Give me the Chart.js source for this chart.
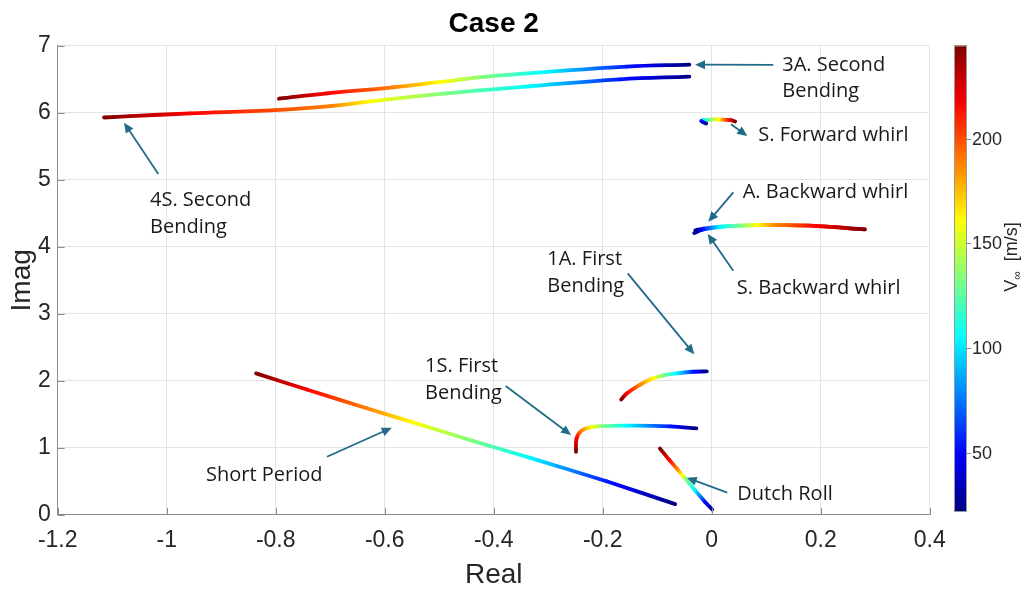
<!DOCTYPE html>
<html>
<head>
<meta charset="utf-8">
<script src="https://cdn.jsdelivr.net/npm/chart.js@4.4.1/dist/chart.umd.min.js"></script>
<style>
html,body{margin:0;padding:0;background:#fff;}
canvas{display:block;}
</style>
</head>
<body>
<canvas id="c" width="1028" height="589" style="width:1028px;height:589px"></canvas>
<script>
// ---------------- DATA ----------------
const X_TICKS = [-1.2, -1, -0.8, -0.6, -0.4, -0.2, 0, 0.2, 0.4];
const Y_TICKS = [0, 1, 2, 3, 4, 5, 6, 7];
const CB_TICKS = [50, 100, 150, 200];
const V_MIN = 21.7, V_MAX = 244.5;

// 4S. Second Bending
const V_4S  = [245, 235, 217, 200, 189, 161, 132, 104, 55, 22];
const RE_4S = [-1.115, -1.067, -0.957, -0.80, -0.70, -0.627, -0.486, -0.328, -0.168, -0.041];
const IM_4S = [5.93, 5.95, 5.99, 6.04, 6.10, 6.17, 6.29, 6.40, 6.50, 6.54];
// 3A. Second Bending
const V_3A  = [245, 217, 189, 161, 132, 104, 55, 22];
const RE_3A = [-0.794, -0.706, -0.585, -0.498, -0.413, -0.303, -0.156, -0.041];
const IM_3A = [6.21, 6.29, 6.38, 6.46, 6.54, 6.61, 6.69, 6.72];
// Short Period
const V_SP  = [245, 217, 189, 161, 132, 104, 55, 22];
const RE_SP = [-0.836, -0.743, -0.633, -0.548, -0.437, -0.333, -0.193, -0.067];
const IM_SP = [2.11, 1.87, 1.59, 1.38, 1.10, 0.85, 0.50, 0.16];
// 1S. First Bending
const V_1S  = [245, 217, 189, 161, 132, 104, 55, 22];
const RE_1S = [-0.249, -0.248, -0.239, -0.220, -0.199, -0.156, -0.076, -0.028];
const IM_1S = [0.94, 1.14, 1.255, 1.31, 1.325, 1.33, 1.32, 1.29];
// 1A. First Bending
const V_1A  = [245, 217, 189, 161, 132, 104, 55, 22];
const RE_1A = [-0.166, -0.156, -0.132, -0.107, -0.089, -0.064, -0.034, -0.009];
const IM_1A = [1.72, 1.81, 1.94, 2.04, 2.08, 2.11, 2.135, 2.14];
// Dutch Roll
const V_DR  = [245, 217, 189, 161, 132, 104, 55, 22];
const RE_DR = [-0.095, -0.078, -0.064, -0.054, -0.046, -0.031, -0.013, 0.001];
const IM_DR = [0.99, 0.82, 0.69, 0.59, 0.52, 0.37, 0.20, 0.08];
// S. Forward whirl
const V_SFW  = [245, 225, 200, 161, 140, 104, 55, 22];
const RE_SFW = [0.043, 0.035, 0.025, 0.012, 0.000, -0.015, -0.019, -0.010];
const IM_SFW = [5.87, 5.89, 5.895, 5.90, 5.90, 5.89, 5.875, 5.84];
// A. Backward whirl
const V_ABW  = [245, 217, 189, 161, 132, 104, 55, 22];
const RE_ABW = [0.281, 0.193, 0.119, 0.083, 0.052, 0.015, -0.015, -0.030];
const IM_ABW = [4.26, 4.31, 4.325, 4.325, 4.315, 4.30, 4.27, 4.245];
// S. Backward whirl
const V_SBW  = [245, 217, 189, 161, 132, 104, 55, 22];
const RE_SBW = [0.281, 0.193, 0.119, 0.083, 0.052, 0.015, -0.017, -0.032];
const IM_SBW = [4.26, 4.31, 4.325, 4.325, 4.315, 4.295, 4.255, 4.205];

const MODES = [
  [RE_4S, IM_4S, V_4S, 0.4], [RE_3A, IM_3A, V_3A, 0.4], [RE_SP, IM_SP, V_SP, 0.2],
  [RE_1S, IM_1S, V_1S, 0.4], [RE_1A, IM_1A, V_1A, 0.4], [RE_DR, IM_DR, V_DR, 0.1],
  [RE_SFW, IM_SFW, V_SFW, 0.4], [RE_ABW, IM_ABW, V_ABW, 0.4], [RE_SBW, IM_SBW, V_SBW, 0.4]
];

// annotation labels (data coords of text anchor and arrow)
const ANNOTATIONS = [
  {lines:['3A. Second','Bending'], at:[0.1295, 6.716], from:[0.113, 6.716], to:[-0.0306, 6.718]},
  {lines:['S. Forward whirl'], at:[0.0855, 5.669], from:[0.0354, 5.828], to:[0.0653, 5.654]},
  {lines:['A. Backward whirl'], at:[0.0569, 4.813], from:[0.0396, 4.813], to:[-0.0062, 4.375]},
  {lines:['S. Backward whirl'], at:[0.0459, 3.381], from:[0.0396, 3.643], to:[-0.0073, 4.191]},
  {lines:['1A. First','Bending'], at:[-0.3017, 3.813], from:[-0.1541, 3.604], to:[-0.0319, 2.396]},
  {lines:['1S. First','Bending'], at:[-0.526, 2.213], from:[-0.378, 1.922], to:[-0.258, 1.191]},
  {lines:['Short Period'], at:[-0.928, 0.594], from:[-0.706, 0.867], to:[-0.587, 1.300]},
  {lines:['Dutch Roll'], at:[0.047, 0.306], from:[0.0286, 0.330], to:[-0.0459, 0.554]},
  {lines:['4S. Second','Bending'], at:[-1.0306, 4.688], from:[-1.0154, 5.087], to:[-1.0783, 5.852]}
];

// ---------------- helpers ----------------
function clamp(v){ return Math.max(0, Math.min(1, v)); }
function jet(v){
  const t = clamp((v - V_MIN) / (V_MAX - V_MIN));
  const r = clamp(1.5 - Math.abs(4*t - 3));
  const g = clamp(1.5 - Math.abs(4*t - 2));
  const b = clamp(1.5 - Math.abs(4*t - 1));
  return 'rgb(' + Math.round(r*255) + ',' + Math.round(g*255) + ',' + Math.round(b*255) + ')';
}

const datasets = MODES.map(([re, im, vv, ten]) => ({
  data: re.map((x, i) => ({x: x, y: im[i], v: vv[i]})),
  showLine: true,
  pointRadius: 0,
  borderWidth: 3.8,
  borderCapStyle: 'round',
  borderJoinStyle: 'round',
  tension: ten,
  segment: {
    borderColor: (ctx) => {
      const ds = ctx.chart.data.datasets[ctx.datasetIndex];
      const v0 = ds.data[ctx.p0DataIndex].v, v1 = ds.data[ctx.p1DataIndex].v;
      const c = ctx.chart.ctx;
      const g = c.createLinearGradient(ctx.p0.x, ctx.p0.y, ctx.p1.x + 0.01, ctx.p1.y + 0.01);
      for (let k = 0; k <= 8; k++) g.addColorStop(k/8, jet(v0 + (v1 - v0) * k / 8));
      return g;
    }
  }
}));

const FONT = "'Liberation Sans', Arial, Helvetica, sans-serif";
const ANN_FONT = "'Open Sans', 'Noto Sans', sans-serif";
const ARROW = '#1f6b88';

const decor = {
  id: 'decor',
  afterDraw(chart) {
    const c = chart.ctx, xs = chart.scales.x, ys = chart.scales.y, a = chart.chartArea;
    c.save();
    // inward ticks
    c.strokeStyle = '#8c8c8c'; c.lineWidth = 1;
    X_TICKS.forEach(v => { const px = Math.round(xs.getPixelForValue(v)) + 0.5;
      c.beginPath(); c.moveTo(px, a.bottom); c.lineTo(px, a.bottom - 7); c.stroke(); });
    Y_TICKS.forEach(v => { const py = Math.round(ys.getPixelForValue(v)) + 0.5;
      c.beginPath(); c.moveTo(a.left, py); c.lineTo(a.left + 7, py); c.stroke(); });

    // title & axis titles
    c.fillStyle = '#000';
    c.textAlign = 'center'; c.textBaseline = 'middle';
    c.font = 'bold 28px ' + FONT;
    c.fillText('Case 2', (a.left + a.right) / 2, 24);
    c.fillStyle = '#262626';
    c.font = '28px ' + FONT;
    c.fillText('Real', (a.left + a.right) / 2, 575);
    c.save(); c.translate(22, (a.top + a.bottom) / 2); c.rotate(-Math.PI/2);
    c.fillText('Imag', 0, 0); c.restore();

    // annotations
    c.font = '20px ' + ANN_FONT;
    c.textAlign = 'left'; c.textBaseline = 'middle';
    ANNOTATIONS.forEach(an => {
      const tx = xs.getPixelForValue(an.at[0]), ty = ys.getPixelForValue(an.at[1]);
      c.fillStyle = '#1a1a1a';
      an.lines.forEach((ln, i) => c.fillText(ln, tx, ty + i * 26.5));
      const x0 = xs.getPixelForValue(an.from[0]), y0 = ys.getPixelForValue(an.from[1]);
      const x1 = xs.getPixelForValue(an.to[0]), y1 = ys.getPixelForValue(an.to[1]);
      const ang = Math.atan2(y1 - y0, x1 - x0), L = 10, W = 4.5;
      c.strokeStyle = ARROW; c.fillStyle = ARROW; c.lineWidth = 1.8;
      c.beginPath(); c.moveTo(x0, y0);
      c.lineTo(x1 - Math.cos(ang) * (L - 2), y1 - Math.sin(ang) * (L - 2)); c.stroke();
      c.beginPath(); c.moveTo(x1, y1);
      c.lineTo(x1 - L*Math.cos(ang) + W*Math.sin(ang), y1 - L*Math.sin(ang) - W*Math.cos(ang));
      c.lineTo(x1 - L*Math.cos(ang) - W*Math.sin(ang), y1 - L*Math.sin(ang) + W*Math.cos(ang));
      c.closePath(); c.fill();
    });

    // colorbar
    const cbL = 954, cbR = 967, cbT = 45.5, cbB = 512;
    const vy = v => cbT + (V_MAX - v) / (V_MAX - V_MIN) * (cbB - cbT);
    const grad = c.createLinearGradient(0, cbB, 0, cbT);
    for (let k = 0; k <= 32; k++) grad.addColorStop(k/32, jet(V_MIN + (V_MAX - V_MIN) * k / 32));
    c.fillStyle = grad; c.fillRect(cbL, cbT, cbR - cbL, cbB - cbT);
    c.strokeStyle = '#9a9a9a'; c.lineWidth = 1;
    c.strokeRect(cbL + 0.5, cbT + 0.5, cbR - cbL - 1, cbB - cbT - 1);
    c.fillStyle = '#262626'; c.font = '18px ' + FONT; c.textAlign = 'left'; c.textBaseline = 'middle';
    CB_TICKS.forEach(v => { const py = Math.round(vy(v)) + 0.5;
      c.strokeStyle = '#8c8c8c';
      c.beginPath(); c.moveTo(cbR, py); c.lineTo(cbR + 4, py); c.stroke();
      c.fillText(String(v), 972, py + 1); });
    c.save(); c.translate(1012, 257); c.rotate(-Math.PI/2);
    c.font = '18px ' + FONT;
    const w1 = c.measureText('V').width; c.font = '12px ' + FONT;
    const w2 = c.measureText('\u221e').width; c.font = '18px ' + FONT;
    const w3 = c.measureText('  [m/s]').width;
    let x = -(w1 + w2 + w3) / 2;
    c.fillText('V', x, 0); x += w1;
    c.font = '12px ' + FONT; c.fillText('\u221e', x, 6); x += w2;
    c.font = '18px ' + FONT; c.fillText('  [m/s]', x, 0);
    c.restore();
    c.restore();
  }
};

new Chart(document.getElementById('c'), {
  type: 'scatter',
  data: { datasets: datasets },
  options: {
    responsive: false,
    animation: false,
    events: [],
    layout: { padding: { top: 45.8, right: 1028 - 929.7, bottom: 0, left: 0 } },
    plugins: { legend: { display: false }, title: { display: false }, tooltip: { enabled: false } },
    scales: {
      x: {
        type: 'linear', min: -1.2, max: 0.4,
        afterBuildTicks: s => { s.ticks = X_TICKS.map(v => ({ value: v })); },
        afterFit: s => { s.height = 589 - 514.8; },
        ticks: { callback: v => String(Math.round(v * 10) / 10), font: { family: FONT, size: 23 }, color: '#262626', padding: 12, maxRotation: 0 },
        grid: { color: '#e3e3e3', drawTicks: false },
        border: { color: '#8c8c8c', width: 1 }
      },
      y: {
        type: 'linear', min: 0, max: 7,
        afterBuildTicks: s => { s.ticks = Y_TICKS.map(v => ({ value: v })); },
        afterFit: s => { s.width = 57.7; },
        ticks: { callback: v => String(v), font: { family: FONT, size: 23 }, color: '#262626', padding: 7 },
        grid: { color: '#e3e3e3', drawTicks: false },
        border: { color: '#8c8c8c', width: 1 }
      }
    }
  },
  plugins: [decor]
});
</script>
</body>
</html>
